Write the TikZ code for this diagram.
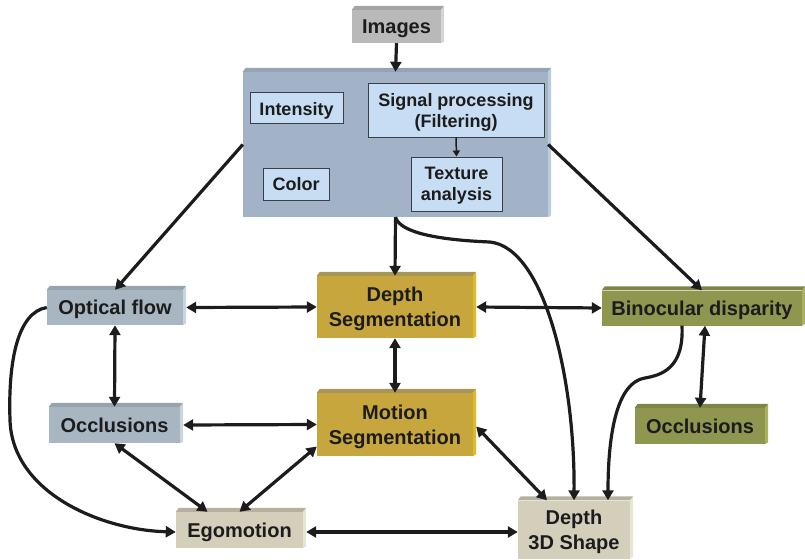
\documentclass[tikz,border=0pt]{standalone}
\usepackage{fontspec}
\setmainfont{Liberation Sans}
\usetikzlibrary{arrows.meta,calc}
\definecolor{txt}{HTML}{1C1C1C}
\definecolor{imgF}{HTML}{B9B9B9}\definecolor{imgT}{HTML}{A4A4A4}\definecolor{imgR}{HTML}{D4D4D4}
\definecolor{bigF}{HTML}{A3B3C7}\definecolor{bigT}{HTML}{95A3B4}\definecolor{bigR}{HTML}{BBCCDF}
\definecolor{innF}{HTML}{C6DDF3}\definecolor{innE}{HTML}{3A3F45}
\definecolor{gryF}{HTML}{A8B6C2}\definecolor{gryT}{HTML}{98A4AD}\definecolor{gryR}{HTML}{C9D4DC}
\definecolor{golF}{HTML}{C6A63D}\definecolor{golT}{HTML}{A89657}\definecolor{golR}{HTML}{E2BB22}
\definecolor{olvF}{HTML}{8F9650}\definecolor{olvT}{HTML}{7E8546}\definecolor{olvR}{HTML}{A9B060}
\definecolor{begF}{HTML}{D3CFBA}\definecolor{begT}{HTML}{B5B19E}\definecolor{begR}{HTML}{E8E6D2}
\newcommand\boxbevel[3]{%
  \fill[#2] (#1.north west) -- ([shift={(3pt,4pt)}]#1.north west) -- ([shift={(3pt,4pt)}]#1.north east) -- (#1.north east) -- cycle;
  \fill[#3] (#1.north east) -- ([shift={(3pt,4pt)}]#1.north east) -- ([shift={(3pt,2pt)}]#1.south east) -- (#1.south east) -- cycle;}
\tikzset{
  box/.style={inner sep=0pt, align=center, text=txt, text depth=0pt, font=\bfseries\fontsize{20}{25}\selectfont},
  innerbox/.style={draw=innE, line width=1pt, fill=innF, inner sep=0pt, align=center, text=txt, text depth=0pt, font=\bfseries\fontsize{18}{21}\selectfont},
  tip/.tip={Triangle[length=10pt,width=11pt]},
  link/.style={line width=3.2pt, draw=txt, tip-tip},
  onelink/.style={line width=3.2pt, draw=txt, -tip},
}
\begin{document}
\begin{tikzpicture}[x=1pt,y=-1pt]
\useasboundingbox (0,0) rectangle (805,559);
% nodes
\node[box, fill=imgF, minimum width=89pt, minimum height=33pt] (img) at (396.5,26.5) {Images};
\boxbevel{img}{imgT}{imgR}
\node[box, fill=bigF, minimum width=305pt, minimum height=145pt] (big) at (395.5,144.5) {};
\boxbevel{big}{bigT}{bigR}
\node[innerbox, minimum width=93pt, minimum height=31pt] (int) at (296.5,108.5) {Intensity};
\node[innerbox, minimum width=176pt, minimum height=53pt] (sig) at (456,110.5) {Signal processing\\(Filtering)};
\node[innerbox, minimum width=66pt, minimum height=32pt] (col) at (296,184) {Color};
\node[innerbox, minimum width=91pt, minimum height=54pt] (tex) at (456.5,184) {Texture\\analysis};
\node[box, fill=gryF, minimum width=136pt, minimum height=35pt] (ofl) at (115,307.5) {Optical flow};
\boxbevel{ofl}{gryT}{gryR}
\node[box, fill=gryF, minimum width=131pt, minimum height=36pt] (occl) at (114.5,425) {Occlusions};
\boxbevel{occl}{gryT}{gryR}
\node[box, fill=begF, minimum width=127pt, minimum height=36pt] (ego) at (239.5,530) {Egomotion};
\boxbevel{ego}{begT}{begR}
\node[box, fill=golF, minimum width=156pt, minimum height=62pt] (dseg) at (395,307) {Depth\\Segmentation};
\boxbevel{dseg}{golT}{golR}
\node[box, fill=golF, minimum width=156pt, minimum height=63pt] (mseg) at (395,424.5) {Motion\\Segmentation};
\boxbevel{mseg}{golT}{golR}
\node[box, fill=olvF, minimum width=200pt, minimum height=35pt] (bin) at (702,308) {Binocular disparity};
\boxbevel{bin}{olvT}{olvR}
\node[box, fill=olvF, minimum width=130pt, minimum height=36pt] (occr) at (700,426) {Occlusions};
\boxbevel{occr}{olvT}{olvR}
\node[box, fill=begF, minimum width=112pt, minimum height=58pt] (d3d) at (574,529.5) {Depth\\3D Shape};
\boxbevel{d3d}{begT}{begR}
% connectors
\draw[line width=1.5pt, draw=txt, -{Triangle[length=6pt,width=7pt]}] (sig.south) -- (tex.north);
\draw[onelink] (img.south) -- (big.north);
\draw[onelink] (big.west) -- (ofl.north);
\draw[onelink] (big.east) -- (bin.north);
\draw[onelink] (big.south) -- (dseg.north);
\draw[link] ([xshift=3pt]ofl.east) -- (dseg.west);
\draw[link] ([xshift=3pt]dseg.east) -- (bin.west);
\draw[link] (ofl.south) -- (occl.north);
\draw[link] (dseg.south) -- (mseg.north);
\draw[link] ([xshift=3pt]occl.east) -- (mseg.west);
\draw[link] (occl.south) -- ([xshift=-32pt]ego.north);
\draw[link] (ego.north) -- ([yshift=-22pt]mseg.west);
\draw[link] ([xshift=3pt,yshift=-2pt]mseg.east) -- ([xshift=-27pt]d3d.north);
\draw[link] ([xshift=3pt,yshift=-2pt]ego.east) -- ([yshift=-2pt]ego.east -| d3d.west);
\draw[link] ([xshift=3pt]bin.south) -- (occr.north);
\coordinate (m1) at (490,242);
\coordinate (m2) at (645,378);
\coordinate (m3) at (10,420);
\draw[onelink] (big.south) .. controls (400,233) and (440,240) .. (m1) .. controls (545,248) and (575,380) .. (d3d.north);
\draw[onelink] ([xshift=-20pt]bin.south) .. controls (684,368) and (662,375) .. (m2) .. controls (618,382) and (608,430) .. ([xshift=34pt]d3d.north);
\draw[onelink] (ofl.west) .. controls (18,312) and (8,360) .. (m3) .. controls (12,492) and (100,530) .. ([yshift=-2pt]ego.west);
\end{tikzpicture}
\end{document}
